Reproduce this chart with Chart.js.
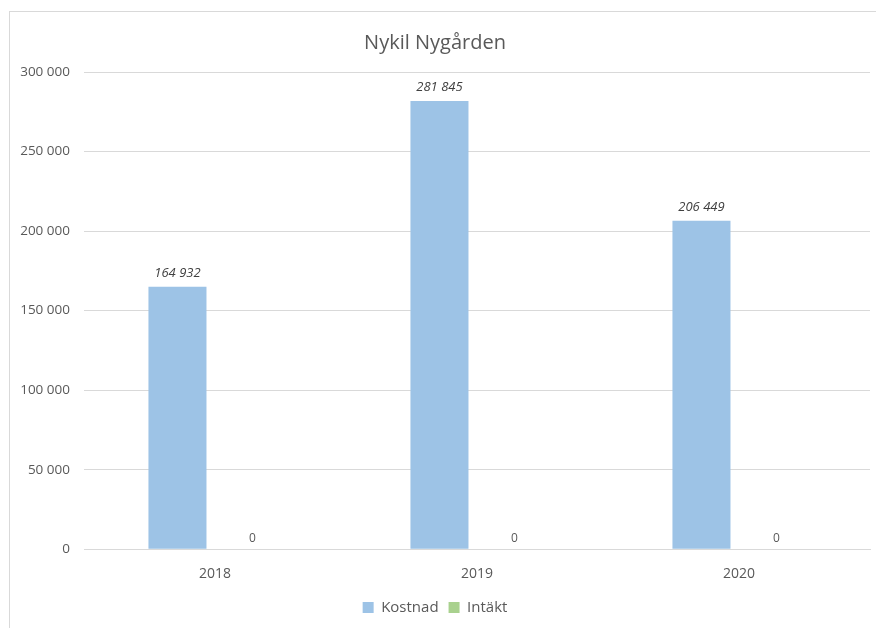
<!DOCTYPE html>
<html>
<head>
<meta charset="utf-8">
<script src="https://cdn.jsdelivr.net/npm/chart.js@4"></script>
<style>
  body { margin: 0; background: #fff; }
  #wrap { position: relative; width: 876px; height: 628px; }
  #frame {
    position: absolute; left: 9px; top: 11px; right: -2px; bottom: -2px;
    border-left: 1px solid #d9d9d9; border-top: 1px solid #d9d9d9;
  }
  canvas { position: absolute; left: 0; top: 0; }
</style>
</head>
<body>
<div id="wrap">
  <div id="frame"></div>
  <canvas id="chart" width="876" height="628"></canvas>
</div>
<script>
// ---- data ----
const years = ["2018", "2019", "2020"];
const kostnad = [164932, 281845, 206449];
const intakt = [0, 0, 0];
const yTicks = [0, 50000, 100000, 150000, 200000, 250000, 300000];

const fmt = v => v.toString().replace(/\B(?=(\d{3})+(?!\d))/g, " ");
const FONT = "'Open Sans', sans-serif";

// value labels above each bar
const barLabels = {
  id: "barLabels",
  afterDatasetsDraw(chart) {
    const ctx = chart.ctx;
    chart.data.datasets.forEach((ds, i) => {
      const meta = chart.getDatasetMeta(i);
      meta.data.forEach((bar, j) => {
        ctx.save();
        ctx.textAlign = "center";
        ctx.textBaseline = "bottom";
        if (i === 0) {
          ctx.font = "italic 13px " + FONT;
          ctx.fillStyle = "#404040";
          ctx.fillText(fmt(ds.data[j]), bar.x, bar.y - 7);
        } else {
          ctx.font = "12px " + FONT;
          ctx.fillStyle = "#595959";
          ctx.fillText(fmt(ds.data[j]), bar.x, bar.y - 5);
        }
        ctx.restore();
      });
    });
  }
};

new Chart(document.getElementById("chart"), {
  type: "bar",
  data: {
    labels: years,
    datasets: [
      { label: "Kostnad", data: kostnad, backgroundColor: "#9dc3e6" },
      { label: "Intäkt", data: intakt, backgroundColor: "#a9d18e" }
    ]
  },
  options: {
    responsive: false,
    animation: false,
    categoryPercentage: 0.573,
    barPercentage: 0.773,
    layout: { padding: { left: 0, right: 6, top: 0, bottom: 3 } },
    plugins: {
      title: {
        display: true,
        text: "Nykil Nygården",
        color: "#595959",
        font: { family: FONT, size: 20, weight: "normal" },
        padding: { top: 31, bottom: 17 }
      },
      legend: {
        position: "bottom",
        labels: {
          color: "#595959",
          font: { family: FONT, size: 15 },
          boxWidth: 11,
          boxHeight: 11,
          padding: 10
        }
      },
      tooltip: { enabled: false }
    },
    scales: {
      x: {
        grid: { display: false },
        border: { color: "#d9d9d9", width: 1 },
        ticks: { color: "#595959", font: { family: FONT, size: 14 }, padding: 8 }
      },
      y: {
        min: 0,
        max: 300000,
        afterFit(scale) { scale.width = 84; },
        afterBuildTicks(scale) { scale.ticks = yTicks.map(v => ({ value: v })); },
        grid: { color: "#d9d9d9", drawTicks: false },
        border: { display: false },
        ticks: {
          color: "#595959",
          font: { family: FONT, size: 13.5 },
          padding: 14,
          callback: v => fmt(v)
        }
      }
    }
  },
  plugins: [barLabels]
});
</script>
</body>
</html>
